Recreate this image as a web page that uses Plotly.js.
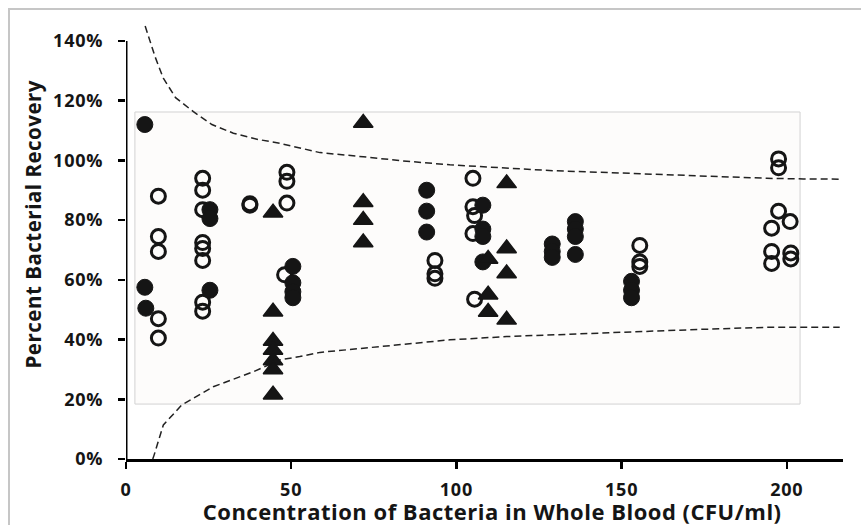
<!DOCTYPE html>
<html>
<head>
<meta charset="utf-8">
<script src="https://cdn.plot.ly/plotly-3.0.1.min.js"></script>
<style>
  html, body { margin: 0; padding: 0; background: #ffffff; }
  #wrap { position: relative; width: 861px; height: 525px; overflow: hidden; }
  #chart { position: absolute; left: 0; top: 0; width: 861px; height: 525px; }
  #frame { position: absolute; left: 8px; top: 8px; width: 900px; height: 600px;
           border-left: 2px solid #c6c6c6; border-top: 2px solid #c6c6c6; pointer-events: none; }
  #chart .annotation-text { letter-spacing: 0.5px; }
  #chart .ytick text, #chart .xtick text { letter-spacing: 0.8px; }
</style>
</head>
<body>
<div id="wrap">
  <div id="chart"></div>
  <div id="frame"></div>
</div>
<script>
// ---------- data ----------
const filledX = [5.7, 5.7, 6.0, 25.4, 25.4, 25.4, 50.5, 50.5, 50.5, 50.5,
                 91, 91, 91, 108, 108, 108, 108, 129, 129, 129,
                 136, 136, 136, 136, 153, 153, 153];
const filledY = [1.12, 0.575, 0.505, 0.835, 0.805, 0.565, 0.645, 0.59, 0.56, 0.54,
                 0.90, 0.83, 0.76, 0.85, 0.77, 0.745, 0.66, 0.72, 0.695, 0.675,
                 0.795, 0.77, 0.745, 0.685, 0.595, 0.565, 0.54];

const openX = [9.8, 9.8, 9.8, 9.8, 9.8,
               23.2, 23.2, 23.2, 23.2, 23.2, 23.2, 23.2, 23.2,
               37.5, 37.5, 48.7, 48.7, 48.7, 48.0,
               93.5, 93.5, 93.5,
               105, 105, 105.5, 105, 105.5,
               155.5, 155.5, 155.5,
               197.5, 197.5, 197.5, 201, 195.4, 195.4, 195.4, 201.2, 201.2];
const openY = [0.88, 0.745, 0.695, 0.47, 0.405,
               0.94, 0.90, 0.835, 0.725, 0.705, 0.665, 0.525, 0.495,
               0.855, 0.85, 0.96, 0.93, 0.857, 0.617,
               0.665, 0.62, 0.605,
               0.94, 0.845, 0.815, 0.755, 0.535,
               0.715, 0.66, 0.645,
               1.005, 0.975, 0.83, 0.795, 0.773, 0.695, 0.655, 0.69, 0.67];

const triX = [44.5, 44.5, 44.5, 44.5, 44.5, 44.5, 44.5,
              71.8, 71.8, 71.8, 71.8,
              109.6, 109.6, 109.6,
              115.2, 115.2, 115.2, 115.2];
const triY = [0.825, 0.493, 0.395, 0.365, 0.33, 0.30, 0.215,
              1.125, 0.86, 0.80, 0.725,
              0.67, 0.55, 0.492,
              0.923, 0.705, 0.621, 0.466];

const upperX = [5.8, 8.8, 11.3, 15, 20.4, 26, 32.5, 40, 46.6, 52.6, 58.7, 71.8,
                85, 98, 115.2, 130, 146.2, 160, 173.7, 193.9, 205, 216];
const upperY = [1.45, 1.347, 1.275, 1.21, 1.163, 1.12, 1.091, 1.07, 1.057, 1.041, 1.026, 1.012,
                0.997, 0.985, 0.974, 0.965, 0.959, 0.953, 0.948, 0.94, 0.938, 0.937];

const lowerX = [8.1, 8.5, 11.3, 16.9, 26.4, 38.5, 46.6, 52.6, 58.7, 71.8,
                98, 115.2, 146.2, 173.7, 193.9, 216];
const lowerY = [0.0, 0.013, 0.114, 0.181, 0.242, 0.292, 0.332, 0.343, 0.357, 0.371,
                0.399, 0.41, 0.424, 0.434, 0.441, 0.441];

const xTicks = [0, 50, 100, 150, 200];
const yTicks = [0, 0.2, 0.4, 0.6, 0.8, 1.0, 1.2, 1.4];
const yTickText = ['0%', '20%', '40%', '60%', '80%', '100%', '120%', '140%'];

const xTitle = 'Concentration of Bacteria in Whole Blood (CFU/ml)';
const yTitle = 'Percent Bacterial Recovery';

// shaded box behind the data (data coordinates)
const boxX = [2.7, 204];
const boxY = [0.184, 1.162];

// ---------- chart ----------
const FONT = '"Open Sans", Lato, sans-serif';
const INK = '#151515';

const traces = [
  {x: upperX, y: upperY, mode: 'lines', line: {color: '#222', width: 1.5, dash: '7px,4px'},
   hoverinfo: 'skip', showlegend: false},
  {x: lowerX, y: lowerY, mode: 'lines', line: {color: '#222', width: 1.5, dash: '7px,4px'},
   hoverinfo: 'skip', showlegend: false},
  {x: openX, y: openY, mode: 'markers', showlegend: false,
   marker: {symbol: 'circle-open', size: 14, color: INK, line: {width: 3, color: INK}}},
  {x: filledX, y: filledY, mode: 'markers', showlegend: false,
   marker: {symbol: 'circle', size: 16, color: INK, line: {width: 1, color: INK}}},
  {x: triX, y: triY, mode: 'markers', showlegend: false,
   marker: {symbol: 'triangle-up', size: 17, color: INK, line: {width: 1.5, color: INK}}}
];

const layout = {
  width: 861, height: 525,
  margin: {l: 126, r: 18, t: 23, b: 66},
  paper_bgcolor: '#ffffff', plot_bgcolor: '#ffffff',
  font: {family: FONT, color: INK},
  xaxis: {
    range: [0, 217], showgrid: false, zeroline: false,
    showline: true, linewidth: 3, linecolor: '#000',
    tickvals: xTicks, ticks: 'outside', ticklen: 7, tickwidth: 2.5, tickcolor: '#000',
    ticklabelstandoff: 5,
    tickfont: {family: FONT, size: 18, weight: 'bold', color: INK}
  },
  yaxis: {
    range: [0, 1.46], showgrid: false, zeroline: false, showline: false,
    tickvals: yTicks, ticktext: yTickText, ticks: 'outside', ticklen: 7, tickwidth: 2.5, tickcolor: '#000',
    ticklabelstandoff: 11,
    tickfont: {family: FONT, size: 18, weight: 'bold', color: INK}
  },
  shapes: [
    {type: 'rect', xref: 'x', yref: 'y', x0: boxX[0], x1: boxX[1], y0: boxY[0], y1: boxY[1],
     fillcolor: '#fdfcfb', line: {color: '#d2d2d2', width: 1}, layer: 'below'},
    {type: 'line', xref: 'x', yref: 'y', x0: 0, x1: 0, y0: 0, y1: 1.4,
     line: {color: '#000', width: 3}}
  ],
  annotations: [
    {text: yTitle, xref: 'paper', yref: 'paper', x: -0.1297, y: 0.539, textangle: -90,
     showarrow: false, xanchor: 'center', yanchor: 'middle',
     font: {family: FONT, size: 20.5, weight: 'bold', color: INK}},
    {text: xTitle, xref: 'paper', yref: 'paper', x: 0.51, y: -0.12,
     showarrow: false, xanchor: 'center', yanchor: 'middle',
     font: {family: FONT, size: 22, weight: 'bold', color: INK}}
  ]
};

Plotly.newPlot('chart', traces, layout, {displayModeBar: false, staticPlot: true});
</script>
</body>
</html>
